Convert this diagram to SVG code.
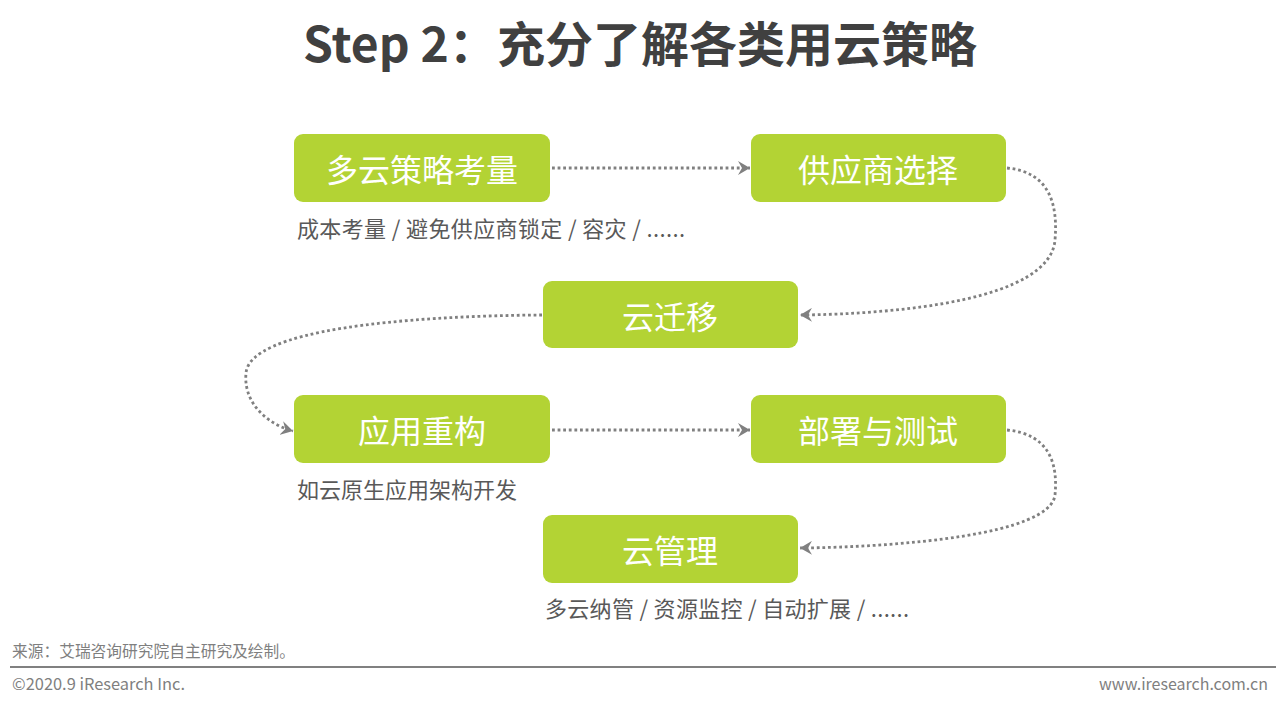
<svg xmlns="http://www.w3.org/2000/svg" width="1280" height="708" viewBox="0 0 1280 708">
<style>
.box{fill:#b3d334}
.lbl{font-family:"Noto Sans CJK SC","Liberation Sans",sans-serif;font-size:32px;fill:#ffffff;text-anchor:middle;dominant-baseline:central}
.sub{font-family:"Noto Sans CJK SC","Liberation Sans",sans-serif;font-size:22px;fill:#595959}
.conn{fill:none;stroke:#808080;stroke-width:2.8;stroke-dasharray:2.8 2.8;marker-end:url(#arr)}
.foot{font-family:"Noto Sans CJK SC","Liberation Sans",sans-serif;font-size:16px;fill:#7f7f7f}
</style>
<defs>
<marker id="arr" viewBox="0 0 12 14" refX="12" refY="7" markerWidth="12" markerHeight="14" markerUnits="userSpaceOnUse" orient="auto">
<path d="M0,0 L12,7 L0,14 L4,7 Z" fill="#808080"/>
</marker>
</defs>
<rect width="1280" height="708" fill="#ffffff"/>
<text x="640" y="62" text-anchor="middle" font-family="'Noto Sans CJK SC','Liberation Sans',sans-serif" font-size="48" font-weight="bold" fill="#404040">Step 2：充分了解各类用云策略</text>

<g id="connectors">
<path class="conn" d="M552,168 L750,168"/>
<path class="conn" d="M1007,168 C1050,172 1058,205 1055,240 C1050,300 900,314 800,315"/>
<path class="conn" d="M542,315 C400,316 250,330 246,373 C243,405 270,425 293,431"/>
<path class="conn" d="M552,430 L750,430"/>
<path class="conn" d="M1007,430 C1050,434 1058,465 1055,495 C1050,535 900,547 800,548"/>
</g>

<g id="node1">
<rect class="box" x="294" y="134" width="256" height="68" rx="9"/>
<text class="lbl" x="422" y="168">多云策略考量</text>
<text class="sub" x="297" y="237" textLength="388" lengthAdjust="spacing">成本考量 / 避免供应商锁定 / 容灾 / ......</text>
</g>
<g id="node2">
<rect class="box" x="751" y="134" width="255" height="68" rx="9"/>
<text class="lbl" x="878" y="168">供应商选择</text>
</g>
<g id="node3">
<rect class="box" x="543" y="281" width="255" height="67" rx="9"/>
<text class="lbl" x="670" y="315">云迁移</text>
</g>
<g id="node4">
<rect class="box" x="294" y="395" width="256" height="68" rx="9"/>
<text class="lbl" x="422" y="429">应用重构</text>
<text class="sub" x="297" y="498">如云原生应用架构开发</text>
</g>
<g id="node5">
<rect class="box" x="751" y="395" width="255" height="68" rx="9"/>
<text class="lbl" x="878" y="429">部署与测试</text>
</g>
<g id="node6">
<rect class="box" x="543" y="515" width="255" height="68" rx="9"/>
<text class="lbl" x="670" y="549">云管理</text>
<text class="sub" x="545" y="617" textLength="364" lengthAdjust="spacing">多云纳管 / 资源监控 / 自动扩展 / ......</text>
</g>

<text class="foot" x="12" y="657" textLength="283" lengthAdjust="spacingAndGlyphs">来源：艾瑞咨询研究院自主研究及绘制。</text>
<line x1="10" y1="667" x2="1276" y2="667" stroke="#808080" stroke-width="2"/>
<text class="foot" x="12" y="690" textLength="173" lengthAdjust="spacingAndGlyphs">©2020.9 iResearch Inc.</text>
<text class="foot" x="1099" y="690" textLength="169" lengthAdjust="spacingAndGlyphs">www.iresearch.com.cn</text>
</svg>
